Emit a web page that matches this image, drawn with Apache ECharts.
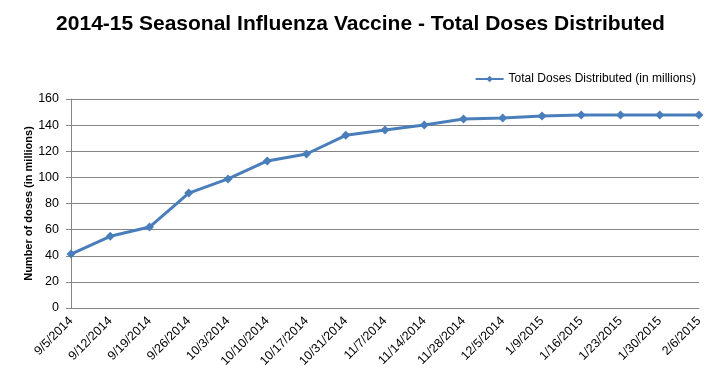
<!DOCTYPE html>
<html><head><meta charset="utf-8">
<script src="https://cdn.jsdelivr.net/npm/echarts@6/dist/echarts.min.js"></script>
<style>html,body{margin:0;padding:0;background:#fff}#c{width:721px;height:386px}</style>
</head><body><div id="c"></div>
<script>
const categories = ['9/5/2014','9/12/2014','9/19/2014','9/26/2014','10/3/2014','10/10/2014','10/17/2014','10/31/2014','11/7/2014','11/14/2014','11/28/2014','12/5/2014','1/9/2015','1/16/2015','1/23/2015','1/30/2015','2/6/2015'];
const doses = [41.3, 54.9, 62, 88, 98.8, 112.6, 117.9, 132.2, 136.3, 140.1, 144.7, 145.5, 147, 147.8, 147.8, 147.8, 147.8];
const seriesName = 'Total Doses Distributed (in millions)';
const chart = echarts.init(document.getElementById('c'));
chart.setOption({
  animation: false,
  title: {text: '2014-15 Seasonal Influenza Vaccine - Total Doses Distributed', left: 'center', top: 9,
    textStyle: {fontFamily: 'Liberation Sans', fontWeight: 'bold', fontSize: 21, color: '#000'}},
  legend: {right: 20, top: 68, itemWidth: 28, itemHeight: 8, itemGap: 3,
    textStyle: {fontFamily: 'Liberation Sans', fontSize: 12, color: '#000'},
    data: [seriesName]},
  grid: {left: 71, right: 22, top: 99, bottom: 78},
  xAxis: {type: 'category', data: categories, boundaryGap: false,
    axisLine: {lineStyle: {color: '#868686'}},
    axisTick: {show: false},
    axisLabel: {rotate: 45, fontFamily: 'Liberation Sans', fontSize: 12.5, color: '#000', margin: 11, interval: 0}},
  yAxis: {type: 'value', min: 0, max: 160, interval: 20,
    name: 'Number of doses (in millions)', nameLocation: 'middle', nameGap: 37, nameMoveOverlap: false,
    nameTextStyle: {fontFamily: 'Liberation Sans', fontWeight: 'bold', fontSize: 11, color: '#000'},
    axisLine: {show: true, lineStyle: {color: '#868686'}},
    axisTick: {show: true, length: 5, lineStyle: {color: '#868686'}},
    axisLabel: {fontFamily: 'Liberation Sans', fontSize: 12.5, color: '#000', margin: 12},
    splitLine: {lineStyle: {color: '#868686', width: 1}}},
  series: [{name: seriesName, type: 'line', data: doses, symbol: 'diamond', symbolSize: 9,
    lineStyle: {color: '#4a7ebb', width: 3}, itemStyle: {color: '#4a7ebb'}}]
});
</script></body></html>
